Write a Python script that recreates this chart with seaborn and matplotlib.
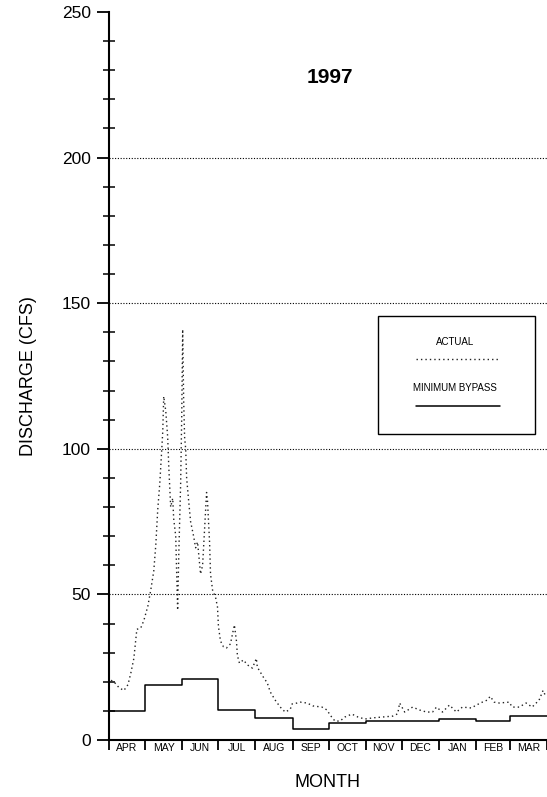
import matplotlib
matplotlib.use("Agg")
import matplotlib.pyplot as plt
from matplotlib.patches import Rectangle
from matplotlib.ticker import FixedLocator, NullFormatter, FixedFormatter
import numpy as np
import pandas as pd
import seaborn as sns

# ---------------- data ----------------
months = ["APR", "MAY", "JUN", "JUL", "AUG", "SEP", "OCT", "NOV", "DEC", "JAN", "FEB", "MAR"]
month_start_day = [0, 30, 61, 91, 122, 153, 183, 214, 244, 275, 306, 334, 365]

# minimum bypass flow (cfs), one value per month (step)
min_bypass = [10.0, 19.0, 21.0, 10.2, 7.5, 3.9, 6.0, 6.5, 6.5, 7.1, 6.5, 8.3]

# actual discharge (cfs), day of water year (Apr 1 = 0)
actual_day = [1.7, 4.1, 8.3, 12.4, 15.8, 18.2, 20.7, 23.2, 26.5, 29.0, 32.4, 34.8,
              37.3, 39.0, 40.6, 42.3, 44.0, 44.8, 45.6, 47.3, 48.9, 49.8, 51.4,
              53.1, 53.9, 55.6, 57.2, 58.1, 59.7, 60.6, 61.4, 62.2, 63.0, 63.9,
              64.7, 66.4, 68.0, 70.5, 72.2, 73.8, 74.7, 76.3, 78.0, 79.6, 81.3,
              82.1, 83.0, 83.8, 84.6, 86.3, 88.8, 90.4, 91.2, 92.9, 95.4, 97.9,
              101.2, 103.7, 104.5, 106.2, 107.0, 108.7, 112.0, 115.3, 119.5,
              122.8, 123.6, 128.6, 131.9, 134.4, 138.5, 142.7, 146.8, 151.0,
              152.6, 156.8, 159.3, 165.0, 170.0, 177.5, 181.7, 184.2, 188.3,
              192.5, 196.6, 202.4, 207.4, 213.2, 219.8, 228.1, 236.4, 240.6,
              242.2, 246.4, 253.0, 258.8, 264.6, 269.6, 272.9, 277.9, 283.7,
              289.5, 294.5, 302.0, 306.1, 311.1, 315.2, 317.7, 321.0, 325.2,
              333.5, 336.0, 341.8, 347.6, 352.6, 358.4, 361.7, 364.2]
actual_cfs = [20.5, 20.0, 18.0, 17.0, 19.0, 23.0, 28.0, 38.0, 38.5, 41.0, 46.0, 51.5,
              58.0, 67.0, 79.0, 88.0, 100.0, 106.0, 118.0, 113.0, 104.0, 94.0, 80.0,
              83.0, 76.0, 70.0, 44.6, 63.0, 88.0, 111.0, 141.0, 117.0, 104.0, 100.0,
              90.0, 82.0, 75.0, 70.0, 66.0, 68.0, 64.0, 57.0, 60.0, 72.0, 85.0,
              82.0, 74.5, 68.0, 57.0, 51.5, 49.0, 45.7, 39.0, 34.0, 32.0, 31.6,
              33.0, 38.0, 39.5, 34.0, 29.0, 26.4, 27.5, 25.8, 24.7,
              28.0, 25.0, 21.6, 19.6, 16.5, 13.7, 11.3, 9.6, 10.5,
              12.4, 12.7, 13.0, 12.7, 11.7, 11.3, 10.3, 8.6, 6.5,
              6.5, 7.9, 8.9, 7.9, 7.2, 7.6, 7.9, 8.2, 9.0,
              12.7, 9.6, 11.3, 10.3, 9.6, 9.6, 11.3, 9.6, 12.0,
              9.6, 11.3, 11.0, 12.0, 13.0, 13.7, 15.0, 13.0, 12.7,
              13.0, 11.3, 11.3, 12.7, 11.3, 13.7, 17.0, 14.8]

y_ticks = [0, 50, 100, 150, 200, 250]
grid_levels = [50, 100, 150, 200]
title = "1997"

# ---------------- plotting ----------------
sns.set_style("ticks", {"text.color": "black", "axes.labelcolor": "black",
                        "xtick.color": "black", "ytick.color": "black",
                        "axes.edgecolor": "black"})
plt.rcParams["font.family"] = ["Liberation Sans", "DejaVu Sans"]

fig = plt.figure(figsize=(5.47, 7.97), dpi=100)
ax = fig.add_axes([109 / 547, 1 - 740 / 797, 438 / 547, 728 / 797])

df_actual = pd.DataFrame({"day": actual_day, "cfs": actual_cfs})
df_min = pd.DataFrame({"day": month_start_day,
                       "cfs": min_bypass + [min_bypass[-1]]})

sns.lineplot(data=df_min, x="day", y="cfs", ax=ax, color="black",
             linewidth=1.1, drawstyle="steps-post", estimator=None)
sns.lineplot(data=df_actual, x="day", y="cfs", ax=ax, color="#222222",
             linewidth=1.0, linestyle=(0, (1, 2.2)), estimator=None, sort=True)

ax.set_xlim(0, 365)
ax.set_ylim(0, 250)

for lvl in grid_levels:
    ax.axhline(lvl, color="black", linestyle=(0, (1, 1.5)), linewidth=0.8, zorder=0)

# y ticks
ax.set_yticks(y_ticks)
ax.set_yticklabels([str(v) for v in y_ticks], fontsize=12.5)
ax.yaxis.set_minor_locator(FixedLocator([v for v in range(0, 251, 10) if v % 50]))
ax.tick_params(axis="y", which="major", direction="out", length=9, width=1.3, pad=4,
               colors="black")
ax.tick_params(axis="y", which="minor", direction="inout", length=8, width=1.1,
               colors="black")

# x ticks: boundaries as major (no labels), month mid as minor labels
ax.xaxis.set_major_locator(FixedLocator(month_start_day))
ax.xaxis.set_major_formatter(NullFormatter())
mids = [(month_start_day[i] + month_start_day[i + 1]) / 2 for i in range(12)]
ax.xaxis.set_minor_locator(FixedLocator(mids))
ax.xaxis.set_minor_formatter(FixedFormatter(months))
ax.tick_params(axis="x", which="major", direction="out", length=7, width=1.3,
               colors="black")
ax.tick_params(axis="x", which="minor", length=0, pad=2, labelsize=7.5,
               colors="black")

ax.set_xlabel("MONTH", fontsize=13, labelpad=14, color="black")
ax.set_ylabel("DISCHARGE (CFS)", fontsize=13, labelpad=18, color="black")

for s in ["top", "right"]:
    ax.spines[s].set_visible(False)
ax.spines["left"].set_linewidth(1.5)
ax.spines["bottom"].set_linewidth(1.5)

ax.text(0.505, 0.91, title, transform=ax.transAxes, ha="center", va="center",
        fontsize=15, fontweight="bold", color="black")

# legend box
ax.add_patch(Rectangle((0.614, 0.420), 0.359, 0.162, transform=ax.transAxes,
                       fill=False, edgecolor="black", linewidth=1.0, zorder=3))
ax.text(0.79, 0.547, "ACTUAL", transform=ax.transAxes, ha="center", va="center",
        fontsize=7, color="black")
ax.plot([0.70, 0.893], [0.523, 0.523], transform=ax.transAxes, color="#222222",
        linewidth=1.0, linestyle=(0, (1, 2.2)))
ax.text(0.79, 0.484, "MINIMUM BYPASS", transform=ax.transAxes, ha="center",
        va="center", fontsize=7, color="black")
ax.plot([0.70, 0.893], [0.459, 0.459], transform=ax.transAxes, color="black",
        linewidth=1.1)

fig.savefig("out.png", dpi=100)
